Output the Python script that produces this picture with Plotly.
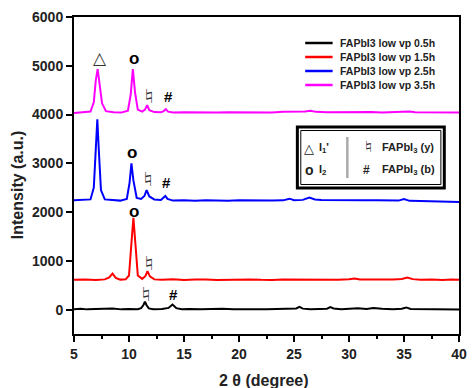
import plotly.graph_objects as go

# ---------------- data ----------------
series_names = ["FAPbI3 low vp 0.5h", "FAPbI3 low vp 1.5h",
                "FAPbI3 low vp 2.5h", "FAPbI3 low vp 3.5h"]
series_colors = ["#000000", "#ff0000", "#0000ff", "#ff00ff"]

x_05h = [5, 5.6, 6.2, 7, 7.8, 8.5, 9.3, 10, 10.8, 11.1, 11.3, 11.45, 11.6, 11.8, 12.2, 13, 13.6,
         13.8, 13.95, 14.1, 14.3, 14.8, 15.5, 16.5, 17.5, 18.5, 19.5, 20.5, 21.5, 22.5, 23.5, 24.5,
         25.2, 25.5, 25.8, 26.5, 27.3, 28, 28.3, 28.6, 29.3, 30, 30.8, 31.6, 32.2, 33, 34, 34.8,
         35.2, 35.6, 36.5, 37.5, 38.5, 39.3, 40]
y_05h = [10, 20, 5, 15, 10, 25, 5, 15, 10, 30, 90, 165, 90, 25, 10, 15, 35,
         80, 105, 75, 30, 10, 15, 5, 10, 20, 5, 15, 10, 5, 15, 10,
         25, 55, 20, 10, 15, 20, 50, 25, 10, 25, 30, 15, 35, 20, 10, 20,
         45, 15, 10, 5, 10, 5, 0]

x_15h = [5, 6, 7, 7.8, 8.2, 8.5, 8.8, 9.2, 9.7, 10.0, 10.2, 10.4, 10.6, 10.8, 11.2, 11.5, 11.68,
         11.9, 12.3, 13, 14, 15, 16, 17, 18, 19, 20, 21, 22, 23, 24, 25, 26, 27, 28, 29, 30, 30.5,
         31, 32, 33, 34, 34.8, 35.3, 35.8, 36.5, 37.5, 38.5, 39.3, 40]
y_15h = [610, 620, 605, 620, 660, 740, 650, 615, 620, 700, 1300, 1880, 1300, 700, 630, 690, 790,
         680, 620, 610, 625, 605, 615, 620, 605, 615, 610, 620, 610, 605, 620, 615, 610, 620, 615,
         610, 625, 640, 620, 615, 610, 620, 630, 660, 625, 610, 615, 605, 615, 610]

x_25h = [5, 5.8, 6.5, 6.8, 7.0, 7.12, 7.25, 7.45, 7.8, 8.5, 9.2, 9.8, 10.05, 10.22, 10.4, 10.7,
         11.1, 11.4, 11.6, 11.85, 12.3, 12.9, 13.15, 13.3, 13.5, 14, 15, 16, 17, 18, 19, 20, 21,
         22, 23, 24, 24.6, 25, 25.8, 26.4, 26.9, 27.5, 28.5, 29.5, 30.5, 31.5, 32.5, 33.5, 34.5,
         35, 35.5, 36.5, 37.5, 38.5, 39.3, 40]
y_25h = [2240, 2245, 2260, 2500, 3300, 3900, 3300, 2450, 2260, 2240, 2235, 2270, 2600, 3000, 2650,
         2290, 2270, 2330, 2450, 2320, 2260, 2250, 2290, 2330, 2270, 2235, 2240, 2230, 2245, 2235,
         2230, 2240, 2235, 2245, 2235, 2240, 2275, 2245, 2250, 2300, 2260, 2250, 2245, 2250, 2240,
         2245, 2240, 2230, 2235, 2265, 2230, 2225, 2220, 2215, 2210, 2205]

x_35h = [5, 5.8, 6.5, 6.8, 6.98, 7.15, 7.32, 7.55, 7.9, 8.6, 9.3, 9.9, 10.15, 10.35, 10.55, 10.8,
         11.2, 11.45, 11.65, 11.85, 12.3, 12.9, 13.15, 13.35, 13.55, 14, 15, 16, 17, 18, 19, 20,
         21, 22, 23, 24, 25, 26, 26.5, 27, 28, 29, 30, 31, 32, 33, 34, 35, 35.5, 36, 37, 38, 39, 40]
y_35h = [4030, 4040, 4060, 4250, 4700, 4930, 4650, 4230, 4070, 4045, 4040, 4080, 4400, 4930, 4450,
         4100, 4060, 4100, 4190, 4090, 4050, 4045, 4070, 4110, 4060, 4040, 4045, 4040, 4050, 4040,
         4045, 4040, 4050, 4045, 4040, 4055, 4050, 4060, 4075, 4055, 4045, 4050, 4040, 4045, 4050,
         4040, 4045, 4055, 4060, 4045, 4040, 4045, 4040, 4040]

series_x = [x_05h, x_15h, x_25h, x_35h]
series_y = [y_05h, y_15h, y_25h, y_35h]

# peak marker symbols placed above peaks (data coordinates)
peak_symbols = ["△", "o", "♮", "#", "o", "♮", "#", "o", "♮", "♮", "#"]
peak_x = [7.32, 10.43, 11.86, 13.55, 10.25, 11.77, 13.37, 10.43, 11.86, 11.5, 14.08]
peak_y = [5160, 5140, 4400, 4360, 3230, 2700, 2600, 2020, 980, 340, 300]

x_ticks = [5, 10, 15, 20, 25, 30, 35, 40]
y_ticks = [0, 1000, 2000, 3000, 4000, 5000, 6000]

# ---------------- layout helpers (pixel -> paper) ----------------
W, H = 473, 388
L, R, T, B = 74, 467, 17, 334


def px(p):
    return (p - L) / (R - L)


def py(p):
    return (B - p) / (B - T)


FONT = "Liberation Sans, Arial, sans-serif"
SYMFONT = "Noto Sans CJK JP, DejaVu Sans, sans-serif"

fig = go.Figure()
for name, color, xs, ys in zip(series_names, series_colors, series_x, series_y):
    fig.add_trace(go.Scatter(x=xs, y=ys, mode="lines", name=name,
                             line=dict(color=color, width=2), showlegend=False))

annotations = []
# peak symbols
for s, xv, yv in zip(peak_symbols, peak_x, peak_y):
    if s == "o":
        f = dict(family=FONT, size=17, color="black", weight="bold")
    elif s == "#":
        f = dict(family=FONT, size=15, color="black", weight="bold")
    elif s == "♮":
        f = dict(family=SYMFONT, size=16, color="#333")
    else:
        f = dict(family="DejaVu Sans, sans-serif", size=17, color="#333")
    annotations.append(dict(x=xv, y=yv, xref="x", yref="y", text=s, showarrow=False,
                            font=f, xanchor="center", yanchor="middle"))

# manual legend (line samples + text)
shapes = []
leg_rows = [43, 57, 71, 85]
for name, color, ry in zip(series_names, series_colors, leg_rows):
    shapes.append(dict(type="line", xref="paper", yref="paper",
                       x0=px(310), x1=px(338), y0=py(ry), y1=py(ry),
                       line=dict(color=color, width=2.5)))
    annotations.append(dict(x=px(343), y=py(ry), xref="paper", yref="paper", text=name,
                            showarrow=False, xanchor="left", yanchor="middle",
                            font=dict(family=FONT, size=10.5, color="#222", weight="bold")))

# symbol key box
shapes.append(dict(type="rect", xref="paper", yref="paper", x0=px(302), x1=px(452),
                   y0=py(188), y1=py(127), line=dict(color="black", width=3)))
shapes.append(dict(type="rect", xref="paper", yref="paper", x0=px(305.5), x1=px(448.5),
                   y0=py(184.5), y1=py(130.5), line=dict(color="black", width=1)))
shapes.append(dict(type="line", xref="paper", yref="paper", x0=px(353), x1=px(353),
                   y0=py(178), y1=py(137), line=dict(color="#aaaaaa", width=2.5)))

key_items = [
    (307, 148, "△", "DejaVu Sans, sans-serif", 13, "normal"),
    (322, 148, "I<sub>1</sub>'", FONT, 11, "bold"),
    (308, 170, "o", FONT, 14, "bold"),
    (322, 170, "I<sub>2</sub>", FONT, 11, "bold"),
    (366, 145, "♮", SYMFONT, 13, "normal"),
    (386, 148, "FAPbI<sub>3</sub> (y)", FONT, 11, "bold"),
    (367, 170, "#", FONT, 12, "bold"),
    (386, 170, "FAPbI<sub>3</sub> (b)", FONT, 11, "bold"),
]
for xx, yy, txt, fam, sz, wt in key_items:
    annotations.append(dict(x=px(xx), y=py(yy), xref="paper", yref="paper", text=txt,
                            showarrow=False, xanchor="left", yanchor="middle",
                            font=dict(family=fam, size=sz, color="#222", weight=wt)))

# axis titles
annotations.append(dict(x=px(268), y=py(380), xref="paper", yref="paper",
                        text="2 θ (degree)", showarrow=False, xanchor="center", yanchor="middle",
                        font=dict(family=FONT, size=16, color="#222", weight="bold")))
annotations.append(dict(x=px(16), y=py(185), xref="paper", yref="paper",
                        text="Intensity (a.u.)", showarrow=False, textangle=-90,
                        xanchor="center", yanchor="middle",
                        font=dict(family=FONT, size=16, color="#222", weight="bold")))

fig.update_layout(
    width=W, height=H,
    margin=dict(l=L, r=W - R, t=T, b=H - B, pad=0),
    paper_bgcolor="white", plot_bgcolor="white",
    showlegend=False,
    annotations=annotations,
    shapes=shapes,
    xaxis=dict(range=[5, 40], tickvals=x_ticks, ticks="outside", ticklen=6, tickwidth=2,
               tickcolor="black", showline=True, linecolor="black", linewidth=2, mirror=True,
               showgrid=False, zeroline=False,
               minor=dict(tick0=5, dtick=2.5, ticks="outside", ticklen=3, tickwidth=2,
                          tickcolor="black", showgrid=False),
               tickfont=dict(family=FONT, size=14, color="#222", weight="bold")),
    yaxis=dict(range=[-500, 6000], tickvals=y_ticks, ticks="outside", ticklen=6, tickwidth=2,
               tickcolor="black", showline=True, linecolor="black", linewidth=2, mirror=True,
               showgrid=False, zeroline=False,
               tickfont=dict(family=FONT, size=14, color="#222", weight="bold")),
)

fig.write_html("out.html")
